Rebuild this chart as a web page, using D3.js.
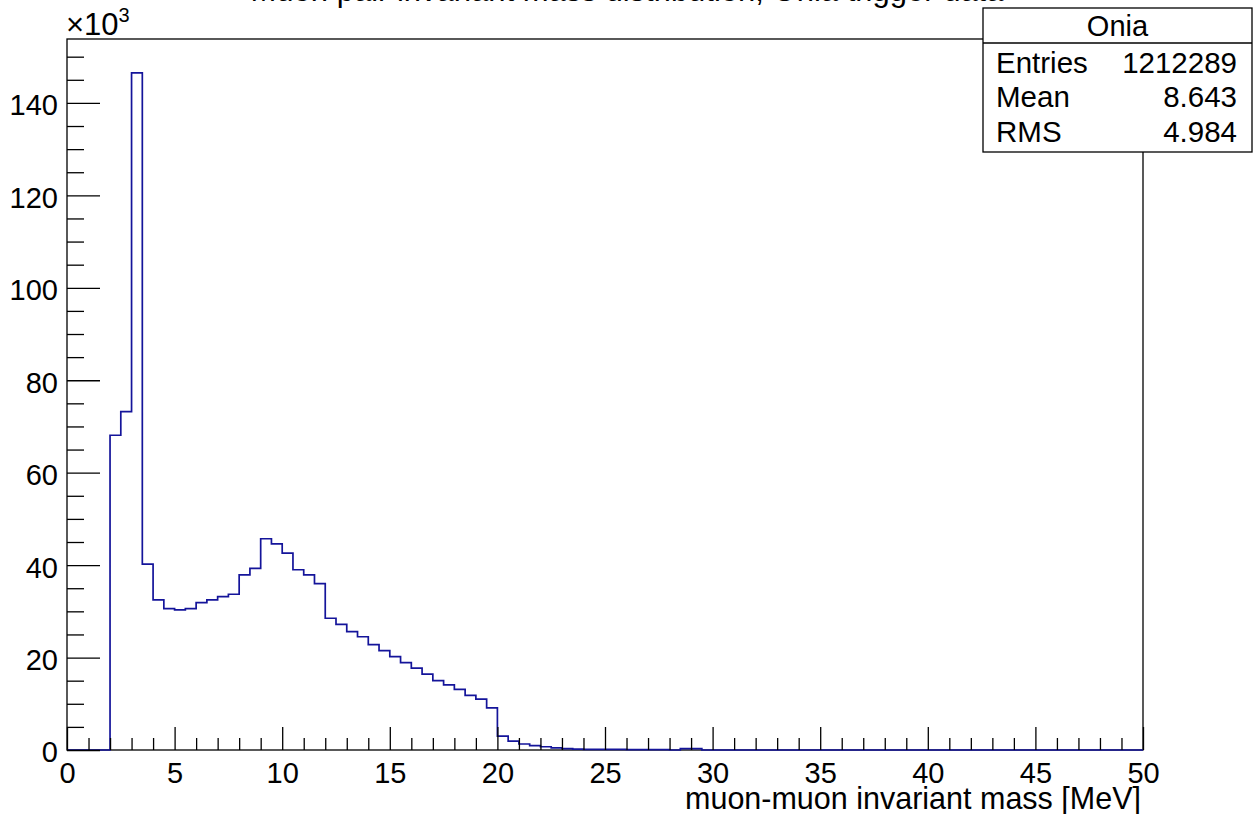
<!DOCTYPE html>
<html>
<head>
<meta charset="utf-8">
<script src="https://cdn.jsdelivr.net/npm/d3@7/dist/d3.min.js"></script>
<style>
  html, body { margin: 0; padding: 0; background: #fff; }
  svg { display: block; font-family: "Liberation Sans", Arial, Helvetica, sans-serif; }
</style>
</head>
<body>
<svg id="chart" width="1255" height="814"></svg>
<script>
// Histogram binning: 0.5 MeV bins starting at 0
const binStart = 0;
const binWidth = 0.5;
const axisMax = 50;

// Bin contents in units of 10^3 entries, bins 0.0–30.0 MeV (everything above is empty)
const counts = [
  0, 0, 0, 0,
  68.1, 73.2, 146.5, 40.2, 32.5, 30.6, 30.3, 30.6, 31.9, 32.5, 33.2, 33.7,
  37.9, 39.3, 45.7, 44.6, 42.6, 39.0, 37.9, 36.0,
  28.5, 27.2, 25.6, 24.5, 22.8, 21.5, 20.2, 18.9, 17.7, 16.4, 15.0, 14.1,
  13.1, 11.8, 11.0, 9.1,
  3.0, 1.9, 1.3, 0.95, 0.7, 0.45, 0.3, 0.2,
  0.15, 0.15, 0.12, 0.12, 0.1, 0.1, 0.1, 0.1,
  0, 0.3, 0.3, 0
];

const xTicks = [0, 5, 10, 15, 20, 25, 30, 35, 40, 45, 50];
const yTicks = [0, 20, 40, 60, 80, 100, 120, 140];

const titleText = "Muon pair invariant mass distribution, Onia trigger data";
const xAxisTitle = "muon-muon invariant mass [MeV]";
const statsName = "Onia";
const statsRows = [["Entries", "1212289"], ["Mean", "8.643"], ["RMS", "4.984"]];

const svg = d3.select("#chart");
const frame = { left: 67, right: 1143, top: 39, bottom: 750 };
const yMax = d3.max(counts) * 1.05;

const x = d3.scaleLinear().domain([0, axisMax]).range([frame.left, frame.right]);
const y = d3.scaleLinear().domain([0, yMax]).range([frame.bottom, frame.top]);

// Title (sits almost entirely above the canvas edge)
svg.append("text")
  .attr("x", 627).attr("y", 0.5)
  .attr("text-anchor", "middle")
  .attr("font-size", 31)
  .attr("fill", "#000")
  .text(titleText);

// Frame box
svg.append("rect")
  .attr("x", frame.left).attr("y", frame.top)
  .attr("width", frame.right - frame.left).attr("height", frame.bottom - frame.top)
  .attr("fill", "none").attr("stroke", "#000").attr("stroke-width", 1.3);

// Histogram outline as a step line
const pts = [[0, 0]];
counts.forEach((c, i) => {
  const lo = binStart + i * binWidth;
  pts.push([lo, c]);
  pts.push([lo + binWidth, c]);
});
pts.push([binStart + counts.length * binWidth, 0]);
pts.push([axisMax, 0]);

svg.append("path")
  .datum(pts)
  .attr("d", d3.line().x(d => x(d[0])).y(d => y(d[1])))
  .attr("fill", "none")
  .attr("stroke", "#14149a")
  .attr("stroke-width", 1.7)
  .attr("stroke-linejoin", "miter");

// Y axis: major ticks with labels, minor ticks every 5
const yAxisG = svg.append("g").attr("transform", `translate(${frame.left},0)`);
yAxisG.call(d3.axisLeft(y).tickValues(yTicks).tickSizeInner(-33).tickSizeOuter(0).tickPadding(9).tickFormat(d3.format("d")));
yAxisG.append("g").call(d3.axisLeft(y).tickValues(d3.range(0, 151, 5).filter(v => v % 20 !== 0)).tickSizeInner(-17).tickSizeOuter(0).tickFormat(""));
yAxisG.selectAll("text").attr("font-size", 29).attr("dy", "0.41em").attr("fill", "#000").attr("font-family", "Liberation Sans, Arial, sans-serif");

// X axis: major ticks every 5, minor every 1
const xAxisG = svg.append("g").attr("transform", `translate(0,${frame.bottom})`);
xAxisG.call(d3.axisBottom(x).tickValues(xTicks).tickSizeInner(-23).tickSizeOuter(0).tickPadding(12).tickFormat(d3.format("d")));
xAxisG.append("g").call(d3.axisBottom(x).tickValues(d3.range(0, 51, 1).filter(v => v % 5 !== 0)).tickSizeInner(-12).tickSizeOuter(0).tickFormat(""));
xAxisG.selectAll("text").attr("font-size", 29).attr("dy", "0.71em").attr("fill", "#000").attr("font-family", "Liberation Sans, Arial, sans-serif");

[yAxisG, xAxisG].forEach(g => {
  g.selectAll(".domain").remove();
  g.selectAll("line").attr("stroke", "#000").attr("stroke-width", 1.3);
});

// Axis exponent
const expo = svg.append("text").attr("x", frame.left - 1).attr("y", 35).attr("font-size", 31).attr("fill", "#000");
expo.append("tspan").text("\u00d710");
expo.append("tspan").attr("font-size", 20).attr("dy", -13).text("3");

// X axis title
svg.append("text")
  .attr("x", frame.right - 2).attr("y", 809)
  .attr("text-anchor", "end")
  .attr("font-size", 30.5)
  .attr("fill", "#000")
  .text(xAxisTitle);

// Statistics box
const sb = { x: 983, y: 8, w: 269, h: 144, header: 35 };
const stats = svg.append("g");
stats.append("rect")
  .attr("x", sb.x).attr("y", sb.y).attr("width", sb.w).attr("height", sb.h)
  .attr("fill", "#fff").attr("stroke", "#000").attr("stroke-width", 1.3);
stats.append("line")
  .attr("x1", sb.x).attr("x2", sb.x + sb.w)
  .attr("y1", sb.y + sb.header).attr("y2", sb.y + sb.header)
  .attr("stroke", "#000").attr("stroke-width", 1.3);
stats.append("text")
  .attr("x", sb.x + sb.w / 2).attr("y", 36)
  .attr("text-anchor", "middle").attr("font-size", 29).attr("fill", "#000")
  .text(statsName);
statsRows.forEach((r, i) => {
  const by = 73 + i * 34.3;
  stats.append("text").attr("x", 996).attr("y", by).attr("font-size", 29.5).attr("fill", "#000").text(r[0]);
  stats.append("text").attr("x", 1237).attr("y", by).attr("text-anchor", "end").attr("font-size", 29.5).attr("fill", "#000").text(r[1]);
});
</script>
</body>
</html>
